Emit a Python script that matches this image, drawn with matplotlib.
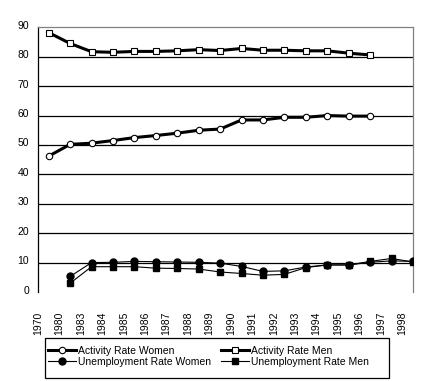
import numpy as np
import matplotlib
matplotlib.use("Agg")
import matplotlib.pyplot as plt
import matplotlib.transforms as mtransforms
from matplotlib.patches import Rectangle

plt.rcParams['font.family'] = ['Liberation Sans', 'DejaVu Sans']

years = ["1970", "1980", "1983", "1984", "1985", "1986", "1987", "1988", "1989",
         "1990", "1991", "1992", "1993", "1994", "1995", "1996", "1997", "1998"]

nan = np.nan
activity_women = [46.2, 50.2, 50.6, 51.5, 52.5, 53.2, 54.0, 55.0, 55.4,
                  58.5, 58.5, 59.4, 59.4, 60.0, 59.8, 59.8, nan, nan]
activity_men = [88.2, 84.5, 81.7, 81.5, 81.8, 81.8, 82.0, 82.4, 82.1,
                82.8, 82.2, 82.2, 82.0, 82.0, 81.2, 80.6, nan, nan]
unemp_women = [nan, 5.3, 10.0, 10.1, 10.4, 10.3, 10.2, 10.1, 9.8,
               8.7, 7.0, 7.2, 8.5, 9.2, 9.2, 10.1, 10.6, 10.4]
unemp_men = [nan, 3.0, 8.6, 8.6, 8.6, 8.1, 8.0, 7.8, 6.8,
             6.3, 5.7, 6.0, 8.3, 9.2, 9.2, 10.4, 11.4, 10.2]

W, H = 431, 381
fig = plt.figure(figsize=(W / 100, H / 100), dpi=100)
ax = fig.add_axes([38 / W, 1 - 292 / H, 375 / W, (292 - 27.3) / H])

x = np.arange(len(years))

l1, = ax.plot(x, activity_women, color='black', lw=2.2, marker='o', ms=4.6,
              mfc='white', mec='black', mew=0.8, zorder=4)
l2, = ax.plot(x, activity_men, color='black', lw=2.2, marker='s', ms=4.6,
              mfc='white', mec='black', mew=0.8, zorder=4)
l3, = ax.plot(x, unemp_women, color='black', lw=0.8, marker='o', ms=5.0,
              mfc='black', mec='black', zorder=4)
l4, = ax.plot(x, unemp_men, color='black', lw=0.8, marker='s', ms=5.0,
              mfc='black', mec='black', zorder=4)

ax.set_xlim(0, len(years) - 1)
ax.set_ylim(0, 90)
ax.set_yticks(np.arange(0, 91, 10))
ax.set_xticks(x - 0.5)
ax.set_xticklabels(years, rotation=90, fontsize=7.5)
ax.tick_params(axis='x', length=0, pad=14)
ax.tick_params(axis='y', length=0, pad=6.5, labelsize=7.5)
offset = mtransforms.ScaledTranslation(0, 2.5 / 100, fig.dpi_scale_trans)
for lab in ax.get_yticklabels():
    lab.set_transform(lab.get_transform() + offset)

for v in range(10, 90, 10):
    ax.axhline(v, color='black', lw=0.9, zorder=1)

ax.spines['bottom'].set_visible(False)
ax.spines['left'].set_color('black')
ax.spines['left'].set_linewidth(0.9)
ax.spines['top'].set_color('#808080')
ax.spines['right'].set_color('#808080')
ax.spines['top'].set_linewidth(0.9)
ax.spines['right'].set_linewidth(0.9)

# legend box
fig.patches.append(Rectangle((45 / W, 1 - 378 / H), (389 - 45) / W, 40 / H,
                             transform=fig.transFigure, fill=False,
                             edgecolor='black', lw=0.9))

leg = fig.legend([l1, l3, l2, l4],
                 ["Activity Rate Women", "Unemployment Rate Women",
                  "Activity Rate Men", "Unemployment Rate Men"],
                 ncol=2, loc='upper left',
                 bbox_to_anchor=(48 / W, 1 - 345.5 / H),
                 frameon=False, borderaxespad=0, borderpad=0,
                 handlelength=2.7, handletextpad=0.2, columnspacing=0.9,
                 labelspacing=0.15, fontsize=7.5)

fig.savefig("out.png", dpi=100)
